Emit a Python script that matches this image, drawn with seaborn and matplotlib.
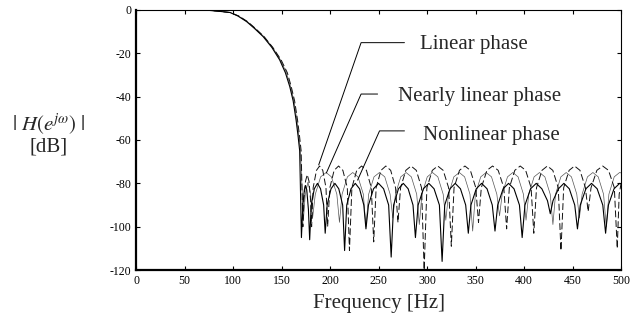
import matplotlib
matplotlib.use("Agg")
import matplotlib.pyplot as plt
import seaborn as sns
import pandas as pd

# ---------------- data ----------------
# Nonlinear phase (solid black line)
f_nonlin = [0, 20, 40, 60, 75, 85, 97, 105, 114, 122, 131, 140, 148, 154, 158.5, 162, 165, 167, 168.7,
            170.5, 172, 173.5, 174.8, 176, 177.7, 179,
            180.6, 183.8, 187, 190.2, 193.4, 195,
            197, 201, 205, 209, 213, 215,
            217.2, 221.6, 226, 230.4, 234.8, 237,
            239.6, 244.8, 250, 255.2, 260.4, 263,
            265.5, 270.5, 275.5, 280.5, 285.5, 288,
            290.8, 296.2, 301.8, 307.2, 312.7, 315.5,
            318.2, 323.6, 329, 334.4, 339.8, 342.5,
            345.2, 350.7, 356.2, 361.8, 367.2, 370,
            372.8, 378.4, 384, 389.6, 395.2, 398,
            400.9, 406.7, 412.5, 418.3, 424.1, 427,
            429.8, 435.4, 441, 446.6, 452.2, 455,
            457.9, 463.7, 469.5, 475.3, 481.1, 484,
            486.9, 492.7, 498.5, 500]
db_nonlin = [0, 0, 0, 0, -0.2, -0.6, -1.2, -2.8, -5.4, -8.5, -12.3, -17.3, -23, -29, -35.4, -42, -50.8, -58, -65,
             -105, -90, -83, -81, -83, -92, -106,
             -90, -82.5, -80, -82.5, -90, -103,
             -90, -82.5, -80, -82.5, -90, -111,
             -90, -82.5, -80, -82.5, -90, -101,
             -90, -82.5, -80, -82.5, -90, -114,
             -90, -82.5, -80, -82.5, -90, -105,
             -90, -82.5, -80, -82.5, -90, -116,
             -90, -82.5, -80, -82.5, -90, -103,
             -90, -82.5, -80, -82.5, -90, -102,
             -90, -82.5, -80, -82.5, -90, -105,
             -90, -82.5, -80, -82.5, -88, -94,
             -88, -82.5, -80, -82.5, -90, -101,
             -90, -82.5, -80, -82.5, -90, -103,
             -90, -82.5, -80, -80.2]

# Linear phase (dashed line)
f_lin = [0, 20, 40, 60, 75, 85, 97, 106, 115, 123, 132, 141, 149.5, 156, 160, 163.5, 166.5, 168.5, 170.2,
         172, 173, 174.7, 176.5, 178.3, 180, 181,
         182.6, 186, 189.2, 192.5, 195.8, 197.5,
         199.8, 204.2, 208.8, 213.2, 217.8, 220,
         222.5, 227.5, 232.5, 237.5, 242.5, 245,
         247.5, 252.5, 257.5, 262.5, 267.5, 270,
         272.7, 278.1, 283.5, 288.9, 294.3, 297,
         299.8, 305.4, 311, 316.6, 322.2, 325,
         327.8, 333.4, 339, 344.6, 350.2, 353,
         355.9, 361.7, 367.5, 373.3, 379.1, 382,
         384.8, 390.4, 396, 401.6, 407.2, 410,
         412.8, 418.4, 424, 429.6, 435.2, 438,
         440.8, 446.4, 452, 457.6, 463.2, 466,
         469, 475, 481, 487, 493, 496,
         498, 500]
db_lin = [0, 0, 0, 0, -0.2, -0.6, -1.2, -2.8, -5.4, -8.5, -12.3, -17.3, -23, -29, -35.4, -42, -50.8, -58, -65,
          -100, -88, -79, -76, -79, -88, -100,
          -82, -74, -72, -74, -82, -100,
          -82, -74, -72, -74, -82, -111,
          -82, -74, -72, -74, -82, -107,
          -82, -74, -72, -74, -82, -98,
          -82, -74, -72, -74, -82, -120,
          -82, -74, -72, -74, -82, -109,
          -82, -74, -72, -74, -82, -98,
          -82, -74, -72, -74, -82, -101,
          -82, -74, -72, -74, -82, -103,
          -82, -74, -72, -74, -82, -111,
          -82, -74, -72, -74, -82, -93,
          -82, -74, -72, -74, -82, -110,
          -85, -80]

# Nearly linear phase (thin line)
f_near = [0, 20, 40, 60, 75, 85, 97, 105.5, 114.8, 122.8, 131.8, 140.8, 148.8, 155, 159.3, 162.8, 165.8, 167.8, 169.5,
          172.5, 174.5, 177.2, 180, 182,
          184.8, 190.3, 196, 201.4, 207, 209.7,
          212.4, 217.9, 223.4, 228.8, 234.3, 237,
          239.8, 245.3, 250.9, 256.4, 261.9, 264.7,
          267.4, 272.9, 278.4, 283.8, 289.3, 292,
          294.7, 300.2, 305.6, 311.1, 316.6, 319.3,
          322.1, 327.6, 333.2, 338.7, 344.2, 347,
          349.8, 355.3, 360.9, 366.4, 371.9, 374.7,
          377.4, 382.9, 388.4, 393.8, 399.3, 402,
          404.8, 410.3, 415.9, 421.4, 426.9, 429.7,
          432.4, 437.9, 443.4, 448.8, 454.3, 457,
          459.8, 465.3, 470.9, 476.4, 481.9, 484.7,
          487.4, 492.9, 498.4, 500]
db_near = [0, 0, 0, 0, -0.2, -0.6, -1.2, -2.8, -5.4, -8.5, -12.3, -17.3, -23, -29, -35.4, -42, -50.8, -58, -65,
           -97, -85, -79.5, -85, -96,
           -85, -77, -75, -77, -85, -98,
           -85, -77, -75, -77, -85, -100,
           -85, -77, -75, -77, -85, -96,
           -85, -77, -75, -77, -85, -99,
           -85, -77, -75, -77, -85, -97,
           -85, -77, -75, -77, -85, -102,
           -85, -77, -75, -77, -85, -95,
           -85, -77, -75, -77, -85, -97,
           -85, -77, -75, -77, -85, -99,
           -85, -77, -75, -77, -85, -96,
           -85, -77, -75, -77, -85, -100,
           -85, -77, -75, -75.2]

# Axis ticks
x_ticks = [0, 50, 100, 150, 200, 250, 300, 350, 400, 450, 500]
y_ticks = [0, -20, -40, -60, -80, -100, -120]

# Annotation labels and leader lines (text start, horizontal end, corner, tip)
ann_labels = ["Linear phase", "Nearly linear phase", "Nonlinear phase"]
ann_text_xy = [(293, -16.0), (269.8, -39.8), (295.5, -57.7)]
ann_leader_x = [(276.7, 232.0, 188.3), (249.0, 232.0, 196.2), (276.7, 251.0, 228.4)]
ann_leader_y = [(-15.1, -15.1, -71.5), (-38.8, -38.8, -75.2), (-55.8, -55.8, -78.5)]

# ---------------- plotting ----------------
sns.set_style("ticks")
plt.rcParams["font.family"] = ["Liberation Serif", "DejaVu Serif"]
plt.rcParams["mathtext.fontset"] = "stix"
plt.rcParams["axes.unicode_minus"] = False

fig = plt.figure(figsize=(6.4, 3.2), dpi=100)
ax = fig.add_axes([0.2125, 0.156, 0.758, 0.813])

df_nonlin = pd.DataFrame({"f": f_nonlin, "db": db_nonlin})
df_lin = pd.DataFrame({"f": f_lin, "db": db_lin})
df_near = pd.DataFrame({"f": f_near, "db": db_near})

sns.lineplot(data=df_near, x="f", y="db", ax=ax, color="#555555", lw=0.5, sort=False)
sns.lineplot(data=df_lin, x="f", y="db", ax=ax, color="#111111", lw=0.7, sort=False,
             linestyle=(0, (7, 3)))
sns.lineplot(data=df_nonlin, x="f", y="db", ax=ax, color="black", lw=0.8, sort=False)

ax.set_xlim(0, 500)
ax.set_ylim(-120, 0)
ax.set_xticks(x_ticks)
ax.set_yticks(y_ticks)
ax.set_xticklabels([str(v) for v in x_ticks])
ax.set_yticklabels([str(v) for v in y_ticks])
ax.tick_params(direction="in", length=3, width=0.8, labelsize=8.5, top=True, right=True,
               colors="black", pad=3.5)

for side in ["left", "bottom"]:
    ax.spines[side].set_linewidth(1.6)
for side in ["top", "right"]:
    ax.spines[side].set_linewidth(0.8)
for s in ax.spines.values():
    s.set_color("black")

ax.set_xlabel("Frequency [Hz]", fontsize=15, labelpad=5)
ax.set_ylabel("")

fig.text(49 / 640, 1 - 124 / 320, r"$|\ H(e^{j\omega})\ |$", fontsize=15,
         ha="center", va="center")
fig.text(49 / 640, 1 - 147 / 320, "[dB]", fontsize=15, ha="center", va="center")

for lab, txy, lx, ly in zip(ann_labels, ann_text_xy, ann_leader_x, ann_leader_y):
    ax.plot(lx, ly, color="black", lw=0.7)
    ax.text(txy[0], txy[1], lab, fontsize=15, ha="left", va="center")

fig.savefig("out.png", dpi=100)
